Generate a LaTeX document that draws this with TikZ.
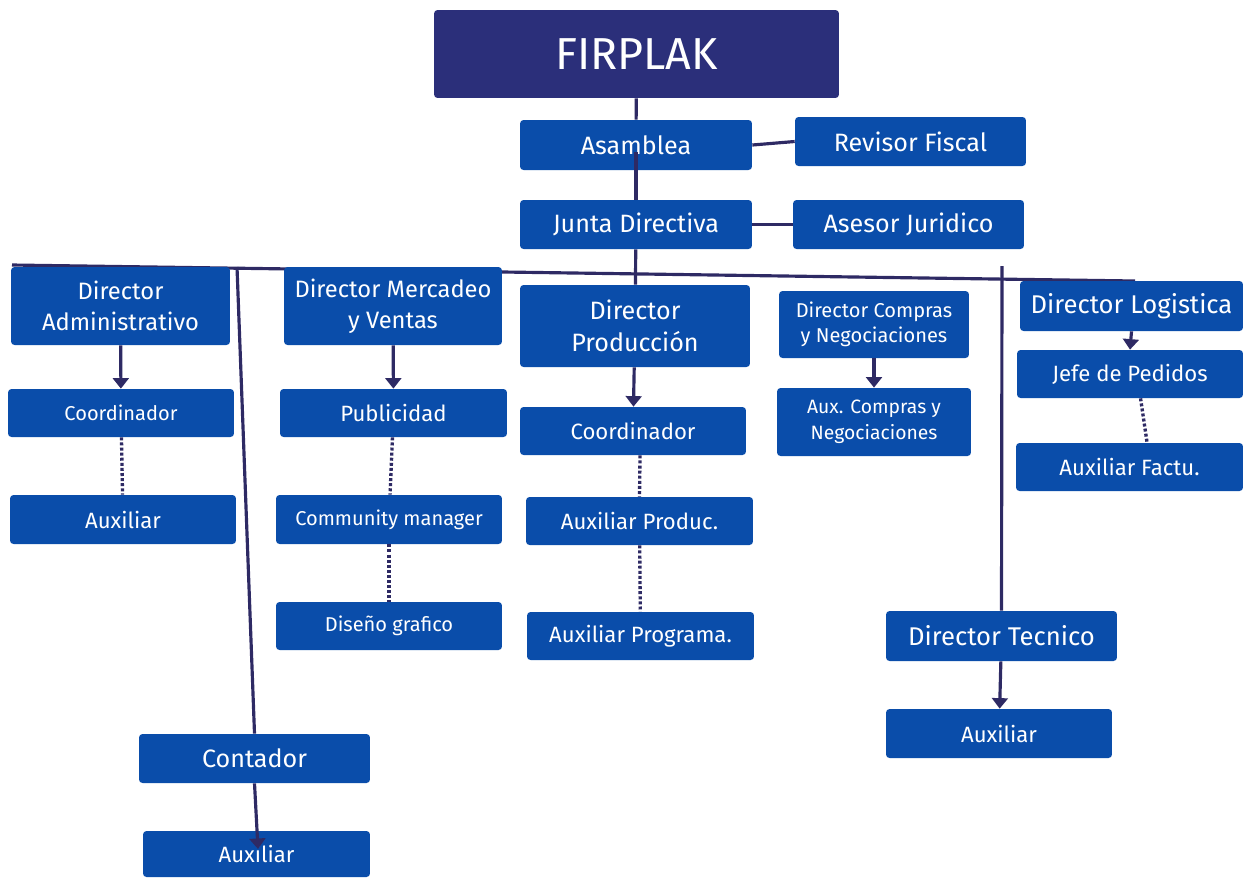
\documentclass[tikz,border=0pt]{standalone}
\usepackage{fontspec}
\setmainfont{Fira Sans}
\usetikzlibrary{arrows.meta}

\definecolor{azulcaja}{HTML}{0A4DAA}
\definecolor{azulfirma}{HTML}{2B2F7A}
\definecolor{azullinea}{HTML}{2E2A64}

\pgfdeclarelayer{fondo}
\pgfsetlayers{fondo,main}

\tikzset{
	cargo/.style={fill=azulcaja, text=white, rounded corners=2pt, inner sep=1pt, align=center,
		font=\fontsize{14.3}{18}\selectfont},
	cargomedio/.style={cargo, font=\fontsize{13.5}{17.5}\selectfont},
	cargobajo/.style={cargo, font=\fontsize{12.6}{15}\selectfont},
	cargochico/.style={cargo, font=\fontsize{11.4}{14.5}\selectfont},
	linea/.style={draw=azullinea, line width=1.8pt},
	flecha/.style={linea, -{Triangle[width=9pt,length=6pt]}},
	punteado/.style={linea, line width=1.9pt, dash pattern=on 1.7pt off 1.2pt},
}

\begin{document}
\begin{tikzpicture}[x=0.02cm, y=-0.02cm]
			\useasboundingbox (0,0) rectangle (1243,877);
			\node [cargo, fill=azulfirma, font=\fontsize{25.5}{28}\selectfont, minimum width=8.1cm, minimum height=1.76cm] (firplak) at (636.5,54) {FIRPLAK};
			\node [cargo, minimum width=4.64cm, minimum height=1cm] (asamblea) at (636,145) {Asamblea};
			\node [cargo, minimum width=4.62cm, minimum height=0.98cm] (revisor) at (910.5,141.5) {Revisor Fiscal};
			\node [cargo, minimum width=4.64cm, minimum height=0.98cm] (junta) at (636,224.5) {Junta Directiva};
			\node [cargo, minimum width=4.62cm, minimum height=0.98cm] (asesor) at (908.5,224.5) {Asesor Juridico};
			% directores
			\node [cargomedio, minimum width=4.38cm, minimum height=1.56cm] (dadmin) at (120.5,306) {Director\\Administrativo};
			\node [cargomedio, minimum width=4.36cm, minimum height=1.56cm] (dmercadeo) at (393,306) {Director Mercadeo\\y Ventas};
			\node [cargo, minimum width=4.6cm, minimum height=1.64cm] (dproduccion) at (635,326) {Director\\Producción};
			\node [cargochico, minimum width=3.8cm, minimum height=1.34cm] (dcompras) at (874,324.5) {Director Compras\\y Negociaciones};
			\node [cargo, font=\fontsize{14.6}{18}\selectfont, minimum width=4.46cm, minimum height=1cm] (dlogistica) at (1131.5,306) {Director Logistica};
			% dependencias
			\node [cargochico, minimum width=4.52cm, minimum height=0.96cm] (coordadmin) at (121,413) {Coordinador};
			\node [cargobajo, minimum width=4.52cm, minimum height=0.98cm] (auxadmin) at (123,519.5) {Auxiliar};
			\node [cargobajo, minimum width=4.54cm, minimum height=0.96cm] (publicidad) at (393.5,413) {Publicidad};
			\node [cargochico, minimum width=4.52cm, minimum height=0.98cm] (community) at (389,519.5) {Community manager};
			\node [cargochico, minimum width=4.52cm, minimum height=0.96cm] (diseno) at (389,626) {Diseño grafico};
			\node [cargobajo, minimum width=4.52cm, minimum height=0.96cm] (coordprod) at (633,431) {Coordinador};
			\node [cargobajo, minimum width=4.54cm, minimum height=0.96cm] (auxproduc) at (639.5,521) {Auxiliar Produc.};
			\node [cargobajo, minimum width=4.54cm, minimum height=0.96cm] (auxprograma) at (640.5,636) {Auxiliar Programa.};
			\node [cargochico, font=\fontsize{11}{14.5}\selectfont, minimum width=3.88cm, minimum height=1.36cm] (auxcompras) at (874,422) {Aux. Compras y\\Negociaciones};
			\node [cargobajo, minimum width=4.52cm, minimum height=0.96cm] (jefe) at (1130,374) {Jefe de Pedidos};
			\node [cargobajo, minimum width=4.54cm, minimum height=0.96cm] (auxfactu) at (1129.5,467) {Auxiliar Factu.};
			\node [cargo, font=\fontsize{14.6}{18}\selectfont, minimum width=4.62cm, minimum height=1cm] (dtecnico) at (1001.5,636) {Director Tecnico};
			\node [cargobajo, minimum width=4.52cm, minimum height=0.98cm] (auxtecnico) at (999,733.5) {Auxiliar};
			\node [cargo, minimum width=4.62cm, minimum height=0.98cm] (contador) at (254.5,758.5) {Contador};
			\node [cargobajo, minimum width=4.54cm, minimum height=0.92cm] (auxcontador) at (256.5,854) {Auxiliar};
			% lineas
			\coordinate (busizq) at (12,265);
			\coordinate (busder) at (1135,281);
			\coordinate (bajacontador) at (237,267);
			\coordinate (bajatecnico) at (1002,266);
			\coordinate (puntacontador) at (258,849);
			\begin{pgfonlayer}{fondo}
				\draw [linea] (firplak) -- (asamblea);
				\draw [linea] (asamblea.east) -- (revisor.west);
				\draw [linea] (junta.east) -- (asesor.west);
				\draw [linea] (busizq) -- (busder);
				\draw [linea] (junta) -- (dproduccion);
				\draw [linea] (bajacontador) -- (contador.north);
				\draw [linea] (bajatecnico) -- (dtecnico.north);
			\end{pgfonlayer}
			\draw [linea] ([yshift=-4pt]asamblea.center) -- (junta.north);
			\draw [flecha] (dadmin) -- (coordadmin);
			\draw [flecha] (dmercadeo) -- (publicidad);
			\draw [flecha] (dproduccion) -- (coordprod);
			\draw [flecha] (dcompras) -- (auxcompras);
			\draw [flecha] (dlogistica.south) -- (jefe.north);
			\draw [flecha] (dtecnico) -- (auxtecnico);
			\draw [flecha] (contador.south) -- (puntacontador);
			\draw [punteado] (coordadmin) -- (auxadmin);
			\draw [punteado] (publicidad) -- (community);
			\draw [punteado] (community) -- (diseno);
			\draw [punteado] ([xshift=4pt]coordprod.south) -- (auxproduc.north);
			\draw [punteado] (auxproduc) -- (auxprograma);
			\draw [punteado] ([xshift=6pt]jefe.south) -- ([xshift=10pt]auxfactu.north);
		\end{tikzpicture}
\end{document}
